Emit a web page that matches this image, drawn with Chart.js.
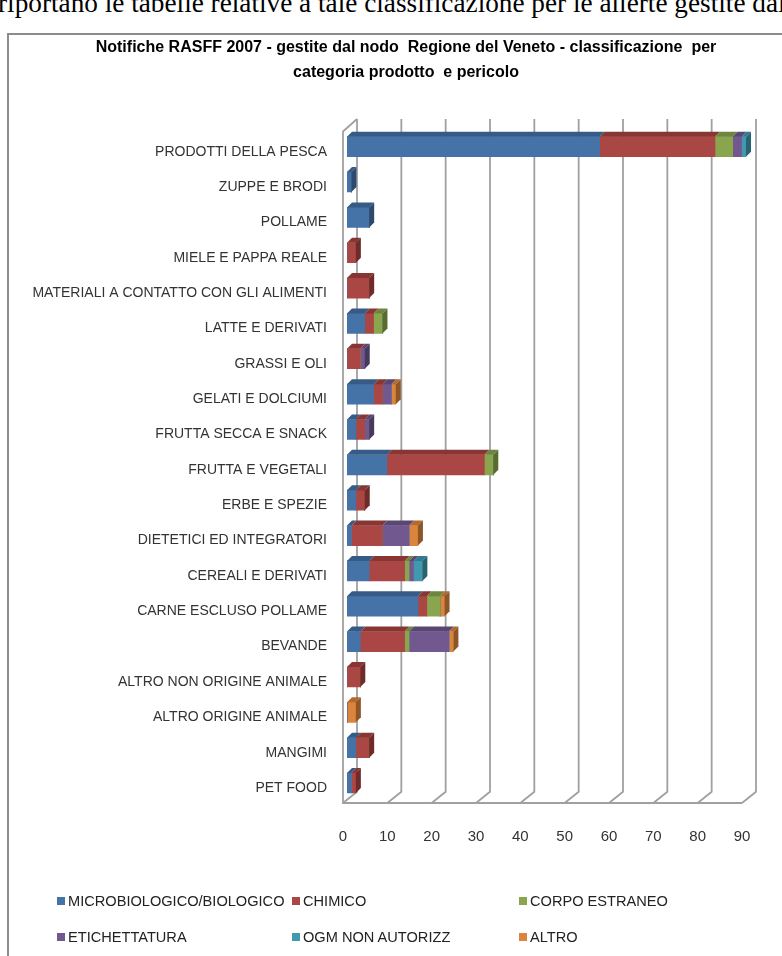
<!DOCTYPE html>
<html>
<head>
<meta charset="utf-8">
<script src="https://cdn.jsdelivr.net/npm/chart.js@4.4.1/dist/chart.umd.min.js"></script>
<style>
  html, body { margin:0; padding:0; width:782px; height:956px; overflow:hidden; background:#fff; }
  #topline { position:absolute; left:-2px; top:-8px; white-space:nowrap; font-family:"Liberation Serif","Times New Roman",serif; font-size:22px; line-height:22px; color:#000; }
  #frame { position:absolute; left:7px; top:33px; width:820px; height:1000px; border-left:2px solid #8c8c8c; border-top:2px solid #8c8c8c; }
  #c { position:absolute; left:0; top:0; }
  .lg { position:absolute; font-family:"Liberation Sans Narrow","Arial Narrow",sans-serif; font-size:14.6px; line-height:16px; color:#222; white-space:nowrap; }
  .lg i { display:inline-block; width:8px; height:8px; margin-right:3px; vertical-align:1px; }
</style>
</head>
<body>
<div id="topline">riportano le tabelle relative a tale classificazione per le allerte gestite dal</div>
<div id="frame"></div>
<canvas id="c" width="806" height="956"></canvas>
<div id="legend"></div>
<script>
const titleLines = ['Notifiche RASFF 2007 - gestite dal nodo  Regione del Veneto - classificazione  per', 'categoria prodotto  e pericolo'];
const categories = ['PRODOTTI DELLA PESCA','ZUPPE E BRODI','POLLAME','MIELE E PAPPA REALE','MATERIALI A CONTATTO CON GLI ALIMENTI','LATTE E DERIVATI','GRASSI E OLI','GELATI E DOLCIUMI','FRUTTA SECCA E SNACK','FRUTTA E VEGETALI','ERBE E SPEZIE','DIETETICI ED INTEGRATORI','CEREALI E DERIVATI','CARNE ESCLUSO POLLAME','BEVANDE','ALTRO NON ORIGINE ANIMALE','ALTRO ORIGINE ANIMALE','MANGIMI','PET FOOD'];
const seriesNames = ['MICROBIOLOGICO/BIOLOGICO','CHIMICO','CORPO ESTRANEO','ETICHETTATURA','OGM NON AUTORIZZ','ALTRO'];
const microbiologico = [57,1,5,0,0,4,0,6,2,9,2,1,5,16,3,0,0,2,1];
const chimico        = [26,0,0,2,5,2,3,2,2,22,2,7,8,2,10,3,0,3,1];
const corpoEstraneo  = [4,0,0,0,0,2,0,0,0,2,0,0,1,3,1,0,0,0,0];
const etichettatura  = [2,0,0,0,0,0,1,2,1,0,0,6,1,0,9,0,0,0,0];
const ogmNonAutorizz = [1,0,0,0,0,0,0,0,0,0,0,0,2,0,0,0,0,0,0];
const altro          = [0,0,0,0,0,0,0,1,0,0,0,2,0,1,1,0,2,0,0];
const xTickValues = [0,10,20,30,40,50,60,70,80,90];

const seriesValues = [microbiologico, chimico, corpoEstraneo, etichettatura, ogmNonAutorizz, altro];
const frontColors = ['#4572A7','#AA4643','#89A54E','#71588F','#4198AF','#DB843D'];
const topColors   = ['#375B87','#883633','#6E853D','#5A4672','#317A8D','#B06A30'];
const sideColors  = ['#2C4A6E','#6E2B29','#586B31','#48385C','#286372','#8E5527'];
const FONT = '"Liberation Sans Narrow","Arial Narrow",sans-serif';

// fit the cut-off serif line to the page width
(function(){
  const el = document.getElementById('topline');
  const w = el.getBoundingClientRect().width;
  el.style.fontSize = (22 * 788 / w) + 'px';
})();

const D = 5;        // bar depth offset
const BX = 10, BY = 10;   // back wall offset from bar plane
const FX = -4, FY = 2.3;  // front floor offset from bar plane

const threeD = {
  id: 'threeD',
  afterLayout(chart) {
    // let the long category labels extend into the left padding without clipping
    chart.scales.y.left = 0;
  },
  beforeDatasetsDraw(chart) {
    const { ctx, scales: { x }, chartArea } = chart;
    const backTop = chartArea.top - BY;
    const backBot = chartArea.bottom - 9;
    const frontBot = chartArea.bottom + FY;
    ctx.save();
    ctx.strokeStyle = '#a0a0a0';
    ctx.lineWidth = 1.8;
    xTickValues.forEach(v => {
      const px = x.getPixelForValue(v);
      ctx.beginPath();
      ctx.moveTo(px + BX, backTop);
      ctx.lineTo(px + BX, backBot);
      ctx.lineTo(px + FX, frontBot);
      ctx.stroke();
    });
    const x0 = x.getPixelForValue(xTickValues[0]);
    const xN = x.getPixelForValue(xTickValues[xTickValues.length - 1]);
    ctx.beginPath();
    ctx.moveTo(xN + FX, frontBot);
    ctx.lineTo(x0 + FX, frontBot);
    ctx.lineTo(x0 + FX, backTop + 12.5);
    ctx.lineTo(x0 + BX, backTop);
    ctx.stroke();
    ctx.restore();
  },
  afterDatasetsDraw(chart) {
    const { ctx } = chart;
    ctx.save();
    categories.forEach((c, i) => {
      let last = -1;
      seriesValues.forEach((arr, d) => { if (arr[i] > 0) last = d; });
      seriesValues.forEach((arr, d) => {
        if (!(arr[i] > 0)) return;
        const el = chart.getDatasetMeta(d).data[i];
        const p = el.getProps(['x','y','base','height'], true);
        const top = p.y - p.height / 2, bot = p.y + p.height / 2;
        ctx.fillStyle = topColors[d];
        ctx.beginPath();
        ctx.moveTo(p.base, top);
        ctx.lineTo(p.x, top);
        ctx.lineTo(p.x + D, top - D);
        ctx.lineTo(p.base + D, top - D);
        ctx.closePath();
        ctx.fill();
        if (d === last) {
          ctx.fillStyle = sideColors[d];
          ctx.beginPath();
          ctx.moveTo(p.x, top);
          ctx.lineTo(p.x + D, top - D);
          ctx.lineTo(p.x + D, bot - D);
          ctx.lineTo(p.x, bot);
          ctx.closePath();
          ctx.fill();
        }
      });
    });
    ctx.restore();
  }
};

new Chart(document.getElementById('c'), {
  type: 'bar',
  data: {
    labels: categories,
    datasets: seriesNames.map((n, d) => ({
      label: n,
      data: seriesValues[d],
      backgroundColor: frontColors[d],
      borderWidth: 0,
      barThickness: 20
    }))
  },
  options: {
    indexAxis: 'y',
    responsive: false,
    animation: false,
    layout: { padding: { top: 35, left: 66, right: 60, bottom: 95.3 } },
    plugins: {
      legend: { display: false },
      tooltip: { enabled: false },
      title: {
        display: true,
        text: titleLines,
        color: '#000',
        font: { family: FONT, size: 16, weight: 'bold', lineHeight: 1.5625 },
        padding: { top: 0, bottom: 44 }
      }
    },
    scales: {
      x: {
        stacked: true, min: 0, max: 90,
        afterBuildTicks(s) { s.ticks = xTickValues.map(v => ({ value: v })); },
        ticks: { labelOffset: -4, padding: 27, color: '#333', font: { family: FONT, size: 15 } },
        grid: { display: false, drawTicks: false },
        border: { display: false },
        afterFit(s) { s.height = 60; }
      },
      y: {
        stacked: true,
        ticks: { labelOffset: 5, padding: 20, color: '#333', font: { family: FONT, size: 14 } },
        grid: { display: false, drawTicks: false },
        border: { display: false },
        afterFit(s) { s.width = 281; }
      }
    }
  },
  plugins: [threeD]
});

// legend built from the series names and colours
const legendPos = [[57,893],[292,893],[519,893],[57,929],[292,929],[519,929]];
const lg = document.getElementById('legend');
seriesNames.forEach((n, d) => {
  const div = document.createElement('div');
  div.className = 'lg';
  div.style.left = legendPos[d][0] + 'px';
  div.style.top = legendPos[d][1] + 'px';
  div.innerHTML = '<i style="background:' + frontColors[d] + '"></i>' + n;
  lg.appendChild(div);
});
</script>
</body>
</html>
